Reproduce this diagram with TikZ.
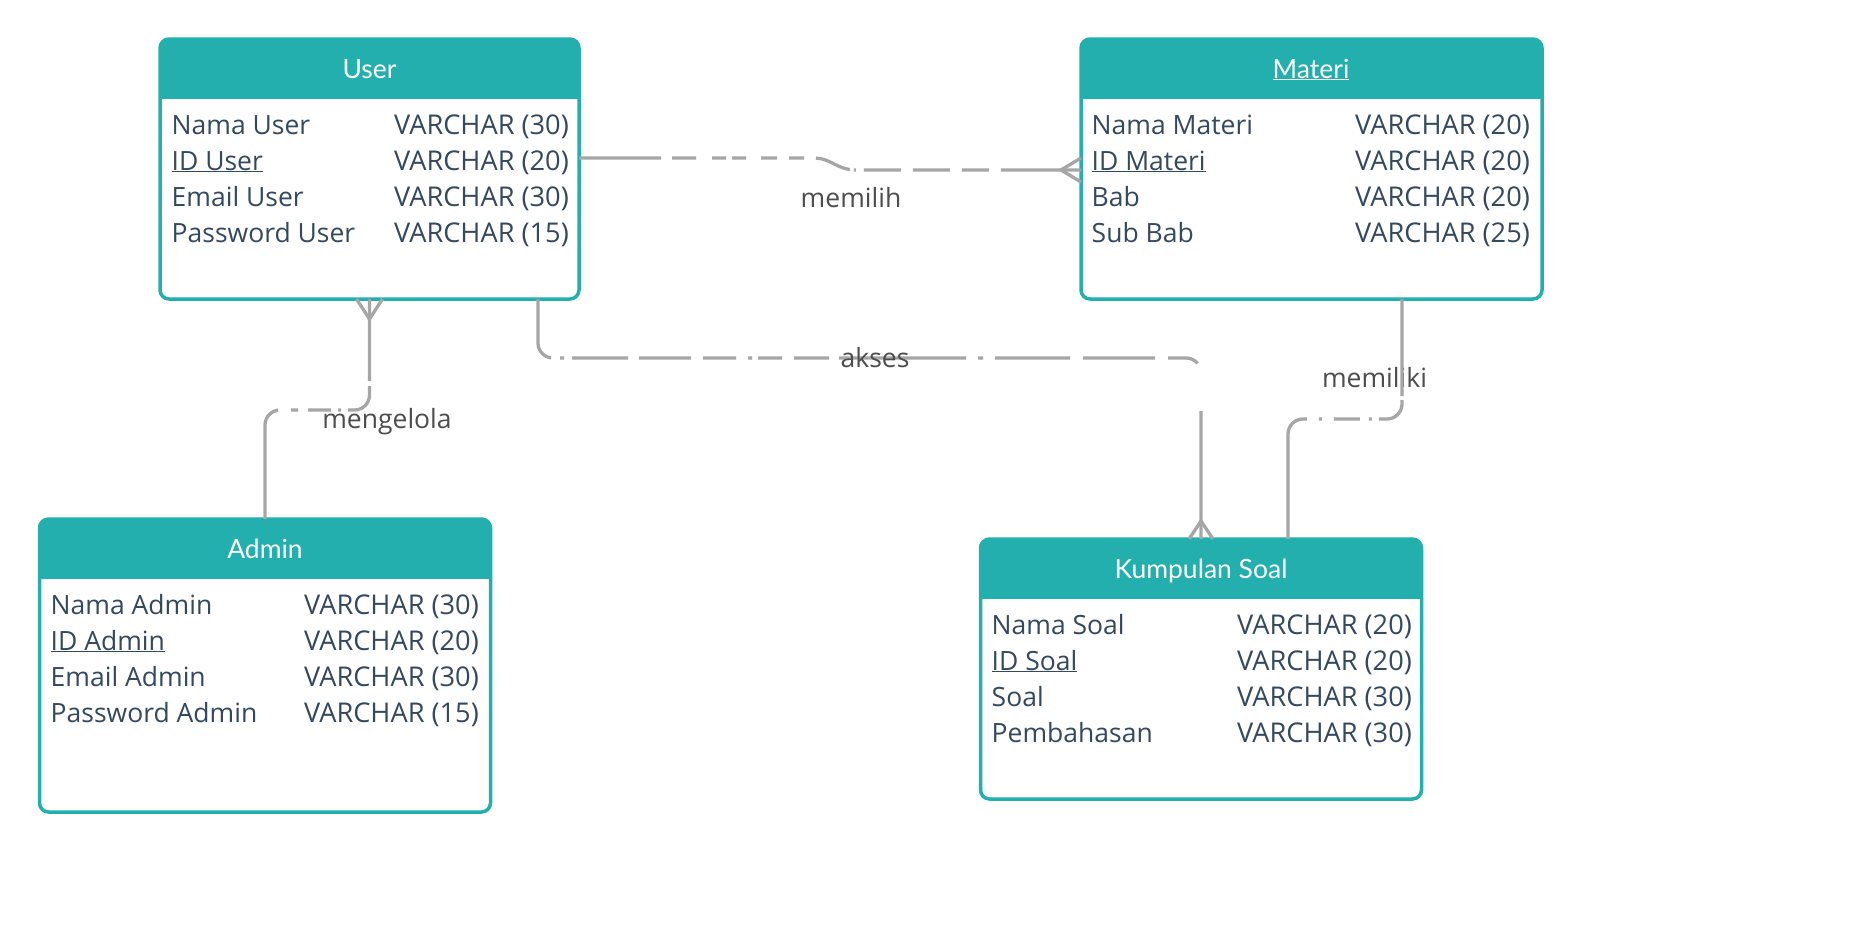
\documentclass[tikz,border=0pt]{standalone}
\usepackage{fontspec}
\setmainfont{Open Sans}
\newfontfamily\titlefont{Lato}
\usetikzlibrary{calc}
\definecolor{teal1}{RGB}{35,175,173}
\definecolor{rowtxt}{RGB}{52,73,94}
\definecolor{linegray}{RGB}{166,166,166}
\definecolor{lbltxt}{RGB}{77,77,77}
\newcommand\tblframe[1]{%
  \begin{scope}
    \clip[rounded corners=9pt] (#1.north west) rectangle (#1.south east);
    \fill[teal1] (#1.north west) rectangle ($(#1.north east)+(0,60)$);
  \end{scope}
  \draw[teal1, line width=3.5pt, rounded corners=9pt] (#1.north west) rectangle (#1.south east);}
\newcommand\frow[6]{%
  \node[fld] (#1a) at (#2,#4) {#5};
  \node[fld, typ] (#1b) at (#3,#4) {#6};}
\begin{document}
\begin{tikzpicture}[x=1pt,y=-1pt,
  tbl/.style={inner sep=0pt, outer sep=0pt, anchor=north west},
  ttl/.style={font=\titlefont\fontsize{26.5}{30}\selectfont, text=white, anchor=base, inner sep=0pt},
  fld/.style={font=\fontsize{26.5}{30}\selectfont, text=rowtxt, anchor=base west, inner sep=0pt},
  typ/.style={font=\fontsize{27.2}{30}\selectfont},
  conn/.style={draw=linegray, line width=3.3pt},
  rc/.style={rounded corners=15pt},
  crow/.style={draw=linegray, line width=3.3pt},
  lbl/.style={font=\fontsize{26.5}{30}\selectfont, text=lbltxt, anchor=base, inner sep=0pt},
]
\useasboundingbox (0,0) rectangle (1854,935);
\fill[white] (0,0) rectangle (1854,935);

% ---------- tables ----------
\node[tbl, minimum width=419pt, minimum height=260pt] (user) at (160,39) {};
\node[tbl, minimum width=461pt, minimum height=260pt] (materi) at (1081,39) {};
\node[tbl, minimum width=451pt, minimum height=293pt] (admin) at (39.5,519) {};
\node[tbl, minimum width=441pt, minimum height=260pt] (ks) at (980.5,539) {};
\tblframe{user}
\tblframe{materi}
\tblframe{admin}
\tblframe{ks}

\node[ttl] (userT) at (369.5,78) {User};
\node[ttl] (materiT) at (1311,78) {\underline{Materi}};
\node[ttl] (adminT) at (265,558) {Admin};
\node[ttl] (ksT) at (1201,578) {Kumpulan Soal};

\frow{u1}{171.5}{394}{134}{Nama User}{VARCHAR (30)}
\frow{u2}{171.5}{394}{170}{\underline{ID User}}{VARCHAR (20)}
\frow{u3}{171.5}{394}{206}{Email User}{VARCHAR (30)}
\frow{u4}{171.5}{394}{242}{Password User}{VARCHAR (15)}

\frow{m1}{1091.5}{1355}{134}{Nama Materi}{VARCHAR (20)}
\frow{m2}{1091.5}{1355}{170}{\underline{ID Materi}}{VARCHAR (20)}
\frow{m3}{1091.5}{1355}{206}{Bab}{VARCHAR (20)}
\frow{m4}{1091.5}{1355}{242}{Sub Bab}{VARCHAR (25)}

\frow{a1}{50.5}{304}{614}{Nama Admin}{VARCHAR (30)}
\frow{a2}{50.5}{304}{650}{\underline{ID Admin}}{VARCHAR (20)}
\frow{a3}{50.5}{304}{686}{Email Admin}{VARCHAR (30)}
\frow{a4}{50.5}{304}{722}{Password Admin}{VARCHAR (15)}

\frow{k1}{991.5}{1237}{634}{Nama Soal}{VARCHAR (20)}
\frow{k2}{991.5}{1237}{670}{\underline{ID Soal}}{VARCHAR (20)}
\frow{k3}{991.5}{1237}{706}{Soal}{VARCHAR (30)}
\frow{k4}{991.5}{1237}{742}{Pembahasan}{VARCHAR (30)}

% ---------- labels under lines ----------
\node[lbl] (lMemilih) at (851,207) {memilih};
\node[lbl] (lMengelola) at (387,428) {mengelola};
\node[lbl] (lMemiliki) at (1374.5,387) {memiliki};

% ---------- connectors ----------
% memilih
\coordinate (mA) at ($(user.north east)+(0,119)$);
\coordinate (mB) at ($(materi.north west)+(0,131)$);
\draw[conn, dash pattern=on 82pt off 11pt on 24pt off 16pt on 14pt off 6pt on 14pt off 15pt on 16pt off 12pt on 15pt off 12pt on 36pt off 4pt on 2pt off 8pt on 37pt off 12pt on 37pt off 12pt on 27pt off 12pt on 300pt]
  (mA) -- (815,158) .. controls (830,158) and (838,170) .. (855,170) -- (mB);
\draw[crow] ($(mB)+(0,-12)$) -- ($(mB)+(-20,0)$) -- ($(mB)+(0,12)$);

% mengelola
\draw[conn, rc, dash pattern=on 82pt off 5pt on 39pt off 7pt on 3pt off 7pt on 23pt off 10pt on 7pt off 13pt on 300pt]
  (user.south) |- ($(admin.north)+(0,-109)$) -- (admin.north);
\draw[crow] ($(user.south)+(-13,0)$) -- ($(user.south)+(0,20)$) -- ($(user.south)+(13,0)$);

% akses
\coordinate (aA) at ($(user.south west)+(378,0)$);
\draw[conn, rc, dash pattern=on 65.6pt off 9pt on 4pt off 8pt on 56pt off 11pt on 52pt off 12pt on 33pt off 12pt on 4pt off 6pt on 24pt off 12pt on 35pt off 10pt on 127pt off 12pt on 5pt off 12pt on 75pt off 13pt on 72pt off 13pt on 31pt off 48.5pt on 300pt]
  (aA) |- ($(ks.north)+(0,-181)$) -- (ks.north);
\draw[crow] ($(ks.north)+(-12,0)$) -- ($(ks.north)+(0,-18)$) -- ($(ks.north)+(12,0)$);

% memiliki
\coordinate (kA) at ($(materi.south west)+(321,0)$);
\coordinate (kB) at ($(ks.north west)+(307.5,0)$);
\draw[conn, rc, dash pattern=on 97pt off 4pt on 35.6pt off 7pt on 3pt off 9pt on 26pt off 12pt on 3pt off 12pt on 300pt]
  (kA) |- ($(kB)+(0,-120)$) -- (kB);

% ---------- label over line ----------
\node[lbl] (lAkses) at (875,367) {akses};
\end{tikzpicture}
\end{document}
